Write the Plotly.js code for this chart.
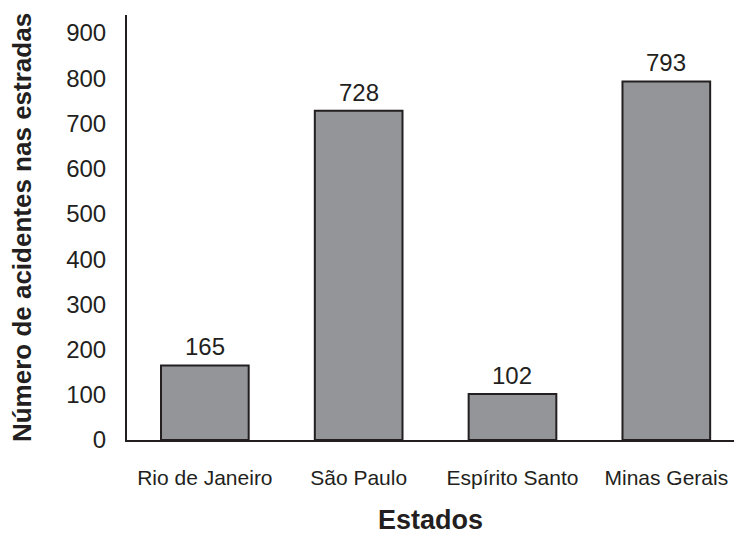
<!DOCTYPE html>
<html>
<head>
<meta charset="utf-8">
<script src="https://cdn.plot.ly/plotly-3.0.1.min.js"></script>
<style>html,body{margin:0;padding:0;background:#fff;}#chart{width:734px;height:535px;}</style>
</head>
<body>
<div id="chart"></div>
<script>
const estados = ["Rio de Janeiro", "São Paulo", "Espírito Santo", "Minas Gerais"];
const acidentes = [165, 728, 102, 793];
const yTicks = [0, 100, 200, 300, 400, 500, 600, 700, 800, 900];

const FONT = "Liberation Sans, Arial, sans-serif";

const trace = {
  type: "bar",
  x: estados,
  y: acidentes,
  marker: { color: "#939598", line: { color: "#231f20", width: 2 } },
  textposition: "none",
  hoverinfo: "none"
};

const annotations = estados.map((e, i) => ({
  x: e, y: acidentes[i], xref: "x", yref: "y",
  text: String(acidentes[i]), showarrow: false,
  yanchor: "bottom", yshift: 3,
  font: { family: FONT, size: 24, color: "#231f20" }
}));

const layout = {
  width: 734, height: 535,
  margin: { l: 127, r: 0, t: 15, b: 95 },
  paper_bgcolor: "#fff", plot_bgcolor: "#fff",
  bargap: 0.43,
  showlegend: false,
  font: { family: FONT, color: "#231f20" },
  xaxis: {
    type: "category",
    range: [-0.506, 3.44],
    showline: true, linecolor: "#231f20", linewidth: 2,
    showgrid: false, zeroline: false,
    ticks: "outside", ticklen: 18, tickcolor: "rgba(0,0,0,0)",
    tickfont: { family: FONT, size: 21, color: "#231f20" },
    title: { text: "<b>Estados</b>", font: { family: FONT, size: 27, color: "#231f20" }, standoff: 25 }
  },
  yaxis: {
    range: [0, 940],
    tickvals: yTicks,
    showline: true, linecolor: "#231f20", linewidth: 2,
    showgrid: false, zeroline: false,
    ticks: "outside", ticklen: 14, tickcolor: "rgba(0,0,0,0)",
    tickfont: { family: FONT, size: 24, color: "#231f20" },
    title: { text: "<b>Número de acidentes nas estradas</b>", font: { family: FONT, size: 26, color: "#231f20" }, standoff: 27 }
  },
  annotations: annotations
};

Plotly.newPlot("chart", [trace], layout, { displayModeBar: false, staticPlot: true });
</script>
</body>
</html>
